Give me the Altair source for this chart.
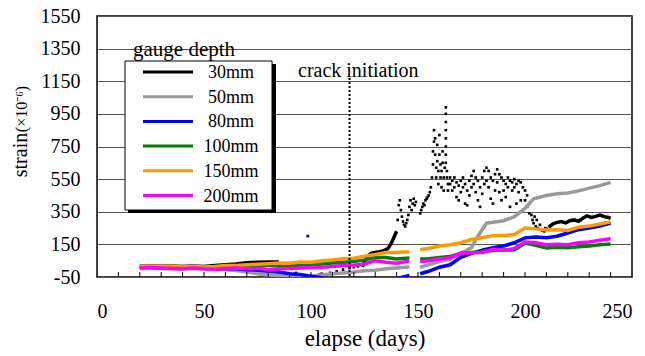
import altair as alt
import pandas as pd

gauges = ["30mm", "50mm", "80mm", "100mm", "150mm", "200mm"]
colors = ["#000000", "#9a9a9a", "#0000ff", "#008000", "#ff9900", "#ff00ff"]

# ---- 30mm (black): continuous stretches ----
black_early = [[20, 16], [25, 18], [30, 16], [35, 18], [40, 14], [45, 18], [50, 15], [55, 20],
               [60, 25], [65, 30], [70, 38], [75, 40], [80, 42], [85, 42]]
black_rise = [[124, 12], [126, 70], [128, 95], [130, 100], [132, 105], [134, 112], [136, 125],
              [137, 145], [138, 170], [139, 200], [140, 230]]
black_late = [[211, 255], [213, 275], [215, 285], [217, 290], [219, 282], [221, 295], [223, 300],
              [225, 292], [227, 310], [229, 325], [231, 315], [233, 322], [235, 330], [237, 320],
              [239, 315], [240, 310]]
# ---- 30mm (black): scattered readings ----
black_scatter = [
    [87, -35], [88, -42], [89, -30], [90, -45], [91, -38], [93, -25], [95, -40], [103, -42],
    [104, -35], [105, -30], [107, -40], [109, -25], [112, -15], [115, -5], [118, 5], [120, 10],
    [122, 15],
    [140.5, 300], [141, 390], [141.5, 420], [142, 360], [142.5, 320], [143, 290], [143.5, 270],
    [144, 260], [144.5, 280], [145, 300], [145.5, 330], [146, 380], [146.5, 420], [147, 360],
    [147.5, 400], [148, 430], [148.5, 390], [149, 410],
    [151, 340], [151.5, 360], [152, 380], [152.5, 400], [153, 390], [153.5, 420], [154, 430],
    [154.5, 440], [155, 450], [155.5, 470], [156, 500], [156.5, 560],
    [157, 640], [157, 720], [157.5, 780], [157.5, 850], [158, 800], [158, 700], [158.5, 620],
    [158.5, 560], [159, 760], [159, 660], [159.5, 600], [159.5, 520], [160, 820], [160, 700],
    [160.5, 640], [160.5, 560], [161, 600], [161, 500], [161.5, 720], [161.5, 650], [162, 560],
    [162, 480], [162.5, 620], [163, 990], [163, 950], [163, 900], [163, 850], [163, 800],
    [163, 750], [163, 700], [163, 650], [163.5, 600], [163.5, 560], [164, 520], [164, 480],
    [165, 560], [165, 520], [166, 540], [166, 480], [167, 560], [167, 500], [168, 530], [168, 440],
    [169, 510], [169, 420], [170, 540], [170, 470], [171, 560], [171, 500], [172, 520], [172, 400],
    [173, 480], [173, 390], [174, 540], [174, 450], [175, 570], [175, 500], [176, 600], [176, 520],
    [177, 560], [177, 470], [178, 540], [178, 420], [179, 500], [179, 380], [180, 560], [180, 460],
    [181, 600], [181, 520], [182, 620], [182, 540], [183, 600], [183, 500], [184, 560], [184, 430],
    [185, 540], [185, 400], [186, 580], [186, 480], [187, 610], [187, 530], [188, 580], [188, 470],
    [189, 560], [189, 420], [190, 540], [190, 480], [191, 520], [191, 440], [192, 560], [192, 500],
    [193, 540], [193, 380], [194, 530], [194, 480], [195, 550], [195, 500], [196, 520], [196, 400],
    [197, 540], [197, 470], [198, 530], [198, 420], [199, 500], [199, 360], [200, 480], [200, 420],
    [201, 450], [201, 380], [202, 400], [202, 340],
    [203, 330], [203.5, 300], [204, 280], [204.5, 320], [205, 260], [205.5, 300], [206, 250],
    [207, 270], [207.5, 240], [208, 235], [209, 230], [209.5, 250], [210, 245]]

# ---- 50mm (gray) ----
gray_early = [[20, 5], [25, 5], [30, 2], [35, 0], [40, 0], [45, 2], [50, 0], [55, -2], [60, -5],
              [65, -10], [70, -20], [75, -30], [80, -38], [85, -40], [90, -42], [95, -40],
              [100, -45], [105, -38], [110, -30], [115, -25], [120, -20], [125, -12], [130, -8],
              [135, 0], [140, 5], [146, 11]]
gray_late = [[151, 10], [155, 25], [160, 45], [165, 60], [170, 95], [173, 115], [175, 130],
             [178, 200], [182, 280], [185, 285], [190, 295], [195, 320], [200, 370], [204, 430],
             [210, 450], [215, 460], [220, 465], [225, 478], [230, 495], [235, 510], [240, 530]]
# ---- 80mm (blue) ----
blue_early = [[20, 8], [25, 10], [30, 6], [35, 4], [40, 2], [45, 5], [50, 2], [55, 0], [60, 2],
              [65, 0], [70, -5], [75, -8], [80, -15], [85, -20], [90, -30], [95, -35], [100, -45],
              [105, -55], [110, -65], [115, -70], [120, -70], [125, -75], [130, -70], [135, -65],
              [140, -60], [146, -40]]
blue_late = [[151, -30], [155, -15], [160, 10], [165, 25], [170, 70], [175, 95], [180, 115],
             [185, 130], [190, 140], [195, 160], [200, 190], [205, 195], [210, 190], [215, 200],
             [220, 220], [225, 240], [230, 250], [235, 262], [240, 280]]
blue_outlier = [[98.5, 201]]
# ---- 100mm (green) ----
green_early = [[20, 12], [25, 14], [30, 12], [35, 14], [40, 10], [45, 12], [50, 8], [55, 10],
               [60, 14], [65, 15], [70, 18], [75, 18], [80, 20], [85, 22], [90, 20], [95, 24],
               [100, 22], [105, 30], [110, 36], [115, 40], [120, 45], [125, 55], [130, 70],
               [135, 70], [140, 60], [146, 66]]
green_late = [[151, 60], [155, 62], [160, 70], [165, 75], [170, 95], [175, 100], [180, 105],
              [185, 112], [190, 115], [195, 115], [200, 158], [205, 145], [210, 128], [215, 132],
              [220, 130], [225, 135], [230, 140], [235, 148], [240, 152]]
# ---- 150mm (orange) ----
orange_early = [[20, 15], [25, 18], [30, 15], [35, 17], [40, 12], [45, 16], [50, 12], [55, 15],
                [60, 20], [65, 20], [70, 25], [75, 28], [80, 32], [85, 36], [90, 35], [95, 42],
                [100, 40], [105, 50], [110, 55], [115, 62], [120, 65], [125, 78], [130, 88],
                [135, 100], [140, 100], [146, 105]]
orange_late = [[151, 118], [155, 125], [160, 140], [165, 148], [170, 160], [175, 180], [180, 190],
               [185, 205], [190, 205], [195, 210], [200, 250], [205, 245], [210, 238], [215, 240],
               [220, 235], [225, 255], [230, 262], [235, 275], [240, 288]]
# ---- 200mm (magenta) ----
pink_early = [[20, 5], [25, 8], [30, 5], [35, 2], [40, 0], [45, 5], [50, 0], [55, -2], [60, 2],
              [65, 5], [70, 0], [75, 3], [80, -5], [85, 0], [90, 2], [95, 5], [100, 8], [105, 10],
              [110, 15], [115, 20], [120, 22], [125, 30], [130, 50], [135, 40], [140, 35], [146, 48]]
pink_late = [[151, 45], [155, 50], [160, 60], [165, 68], [170, 95], [175, 98], [180, 100],
             [185, 120], [190, 112], [195, 125], [200, 165], [205, 160], [210, 148], [215, 150],
             [220, 148], [225, 160], [230, 165], [235, 175], [240, 185]]

x_labels = [0, 50, 100, 150, 200, 250]
x_minor = list(range(10, 250, 10))
y_labels = [-50, 150, 350, 550, 750, 950, 1150, 1350, 1550]
crack_day = [118]
crack_top = [1170]
crack_text = ["crack initiation"]
legend_title = ["gauge depth"]
y_title = ["strain", "(×10⁻⁶)"]

FONT = "Liberation Serif"
W, H = 535, 261


def frame(pairs, gauge, seg):
    return pd.DataFrame({"day": [p[0] for p in pairs], "strain": [p[1] for p in pairs],
                         "gauge": gauge, "seg": seg})


x_enc = alt.X("day:Q", scale=alt.Scale(domain=[0, 250], nice=False, zero=False),
              axis=alt.Axis(values=x_labels, title="elapse (days)", ticks=False, domain=False,
                            grid=False, labelPadding=24, titlePadding=6,
                            labelExpr="'' + datum.value"))
y_enc = alt.Y("strain:Q", scale=alt.Scale(domain=[-50, 1550], nice=False, zero=False),
              axis=alt.Axis(values=y_labels, title=None, ticks=False, domain=False, grid=True,
                            labelPadding=17, labelExpr="'' + datum.value"))
color_enc = alt.Color("gauge:N", scale=alt.Scale(domain=gauges, range=colors), legend=None)


def line_layer(df):
    return alt.Chart(df).mark_line(strokeWidth=3.5, clip=True).encode(
        x=x_enc, y=y_enc, color=color_enc, detail="seg:N", order="day:Q")


layers = []
layers.append(line_layer(pd.concat([frame(black_early, "30mm", "a"),
                                     frame(black_rise, "30mm", "b"),
                                     frame(black_late, "30mm", "c")])))
layers.append(alt.Chart(frame(black_scatter, "30mm", "s")).mark_point(
    shape="square", filled=True, size=7, opacity=1, clip=True).encode(
    x=x_enc, y=y_enc, color=alt.value("#000000")))
for early, late, g in [(gray_early, gray_late, "50mm"), (blue_early, blue_late, "80mm"),
                       (green_early, green_late, "100mm"), (orange_early, orange_late, "150mm"),
                       (pink_early, pink_late, "200mm")]:
    layers.append(line_layer(pd.concat([frame(early, g, "a"), frame(late, g, "b")])))
layers.append(alt.Chart(frame(blue_outlier, "80mm", "o")).mark_point(
    shape="square", filled=True, size=8, opacity=1).encode(
    x=x_enc, y=y_enc, color=alt.value("#0000ff")))

# minor ticks on x axis (inward)
layers.append(alt.Chart(pd.DataFrame({"day": x_minor})).mark_rule(
    color="black", strokeWidth=1).encode(x=x_enc, y=alt.value(H), y2=alt.value(H - 5)))

# crack initiation marker
crack_df = pd.DataFrame({"day": crack_day, "strain": crack_top, "bottom": [-50]})
layers.append(alt.Chart(crack_df).mark_rule(color="black", strokeWidth=2, strokeDash=[2, 2]).encode(
    x=x_enc, y=y_enc, y2="bottom:Q"))
layers.append(alt.Chart(pd.DataFrame({"t": crack_text})).mark_text(
    font=FONT, fontSize=20, align="left", baseline="middle", color="black").encode(
    x=alt.value(201), y=alt.value(55), text="t:N"))

# ---- legend (drawn box with shadow) ----
box = pd.DataFrame({"k": ["box"]})
layers.append(alt.Chart(box).mark_rect(color="black").encode(
    x=alt.value(31), x2=alt.value(179), y=alt.value(48), y2=alt.value(197)))
layers.append(alt.Chart(box).mark_rect(fill="white", stroke="black", strokeWidth=1).encode(
    x=alt.value(28), x2=alt.value(175), y=alt.value(45), y2=alt.value(194)))
for i, (g, c) in enumerate(zip(gauges, colors)):
    yy = 56 + i * 24.7
    row = pd.DataFrame({"gauge": [g]})
    layers.append(alt.Chart(row).mark_rule(color=c, strokeWidth=3).encode(
        x=alt.value(46), x2=alt.value(96), y=alt.value(yy)))
    layers.append(alt.Chart(row).mark_text(
        font=FONT, fontSize=18, align="center", baseline="middle", color="black").encode(
        x=alt.value(134), y=alt.value(yy + 1), text="gauge:N"))
layers.append(alt.Chart(pd.DataFrame({"t": legend_title})).mark_text(
    font=FONT, fontSize=21, align="left", baseline="middle", color="black").encode(
    x=alt.value(36), y=alt.value(34), text="t:N"))

# y axis title (two sizes)
layers.append(alt.Chart(pd.DataFrame({"t": [y_title[0]]})).mark_text(
    font=FONT, fontSize=20, align="center", baseline="middle", angle=270, color="black").encode(
    x=alt.value(-76), y=alt.value(139), text="t:N"))
layers.append(alt.Chart(pd.DataFrame({"t": [y_title[1]]})).mark_text(
    font=FONT, fontSize=16, align="center", baseline="middle", angle=270, color="black").encode(
    x=alt.value(-75), y=alt.value(93), text="t:N"))

chart = alt.layer(*layers).properties(
    width=W, height=H,
    background="white",
    autosize=alt.AutoSizeParams(type="none"),
    padding={"left": 97, "top": 16, "right": 13, "bottom": 79},
).configure_view(stroke="black", strokeWidth=1.5).configure_axis(
    labelFont=FONT, labelFontSize=20, labelColor="black", titleFont=FONT, titleFontSize=23,
    titleColor="black", titleFontWeight="normal", gridColor="#555555", gridWidth=1,
)

chart.save("out.html", embed_options={"renderer": "svg", "actions": False})
